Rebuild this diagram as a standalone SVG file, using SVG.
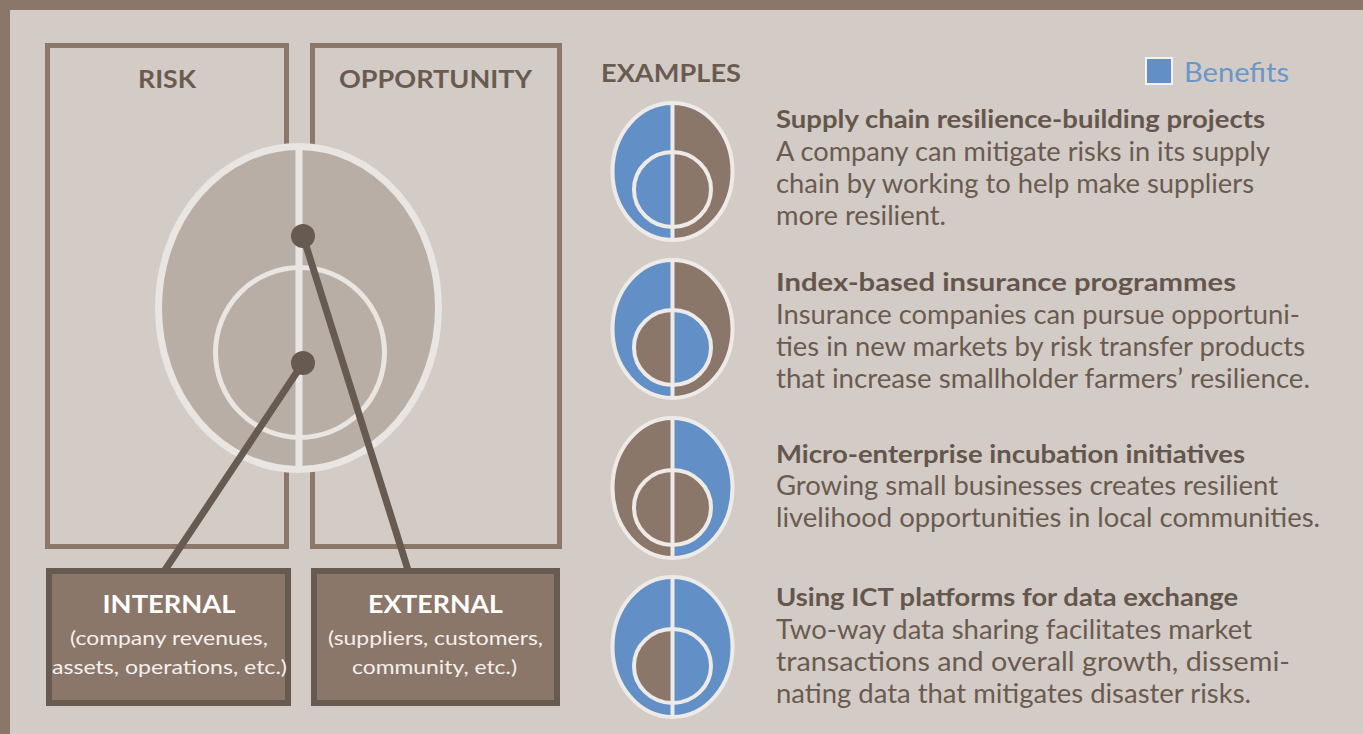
<svg xmlns="http://www.w3.org/2000/svg" width="1363" height="734" viewBox="0 0 1363 734">
  <defs>
    <style>
      .frame { fill: #8b7769; }
      .panel { fill: #d3cbc6; }
      .col { fill: none; stroke: #8b786b; stroke-width: 5; }
      .hdr { font-family: Lato, "Open Sans", sans-serif; font-weight: bold; font-size: 25px; fill: #6a5b51; }
      .bigOval { fill: #b8aea6; stroke: #e9e5e2; stroke-width: 7; }
      .bigInner { fill: none; stroke: #e9e5e2; stroke-width: 5; }
      .divider { stroke: #e9e5e2; stroke-width: 7; }
      .link { stroke: #675a50; stroke-width: 7; stroke-linecap: round; }
      .dot { fill: #675a50; }
      .box { fill: #8b7769; stroke: #675a50; stroke-width: 6; }
      .boxTitle { font-family: Lato, "Open Sans", sans-serif; font-weight: bold; font-size: 25px; fill: #ffffff; text-anchor: middle; }
      .boxText { font-family: Lato, "Open Sans", sans-serif; font-size: 20px; fill: #f4f0ed; text-anchor: middle; }
      .blue { fill: #6290c6; }
      .brown { fill: #8b7769; }
      .iconRing { fill: none; stroke: #eeeae7; stroke-width: 4; }
      .iconLine { stroke: #eeeae7; stroke-width: 4; }
      .exTitle { font-family: Lato, "Open Sans", sans-serif; font-weight: bold; font-size: 24px; fill: #64564c; }
      .exText { font-family: Lato, "Open Sans", sans-serif; font-size: 26px; fill: #6a5b51; }
      .legend { font-family: Lato, "Open Sans", sans-serif; font-size: 26px; fill: #6a96c9; }
    </style>
  </defs>

  <!-- frame -->
  <rect class="frame" x="0" y="0" width="1363" height="734"/>
  <rect class="panel" x="10" y="10" width="1353" height="724"/>

  <!-- risk / opportunity columns -->
  <g id="risk-column">
    <rect class="col" x="47.5" y="45.5" width="239" height="501"/>
    <text class="hdr" x="167" y="88" text-anchor="middle" textLength="58" lengthAdjust="spacingAndGlyphs">RISK</text>
  </g>
  <g id="opportunity-column">
    <rect class="col" x="312.5" y="45.5" width="247" height="501"/>
    <text class="hdr" x="435.5" y="88" text-anchor="middle" textLength="193" lengthAdjust="spacingAndGlyphs">OPPORTUNITY</text>
  </g>

  <!-- central oval -->
  <g id="exposure-oval">
    <ellipse class="bigOval" cx="298.5" cy="308" rx="140" ry="161.5"/>
    <ellipse class="bigInner" cx="300" cy="352.5" rx="84.5" ry="85"/>
    <line class="divider" x1="299" y1="148" x2="299" y2="469"/>
  </g>

  <!-- connectors -->
  <g id="connectors">
    <line class="link" x1="303" y1="236" x2="408" y2="570"/>
    <line class="link" x1="303" y1="363" x2="165" y2="570"/>
    <circle class="dot" cx="303" cy="236" r="12"/>
    <circle class="dot" cx="303" cy="363" r="12"/>
  </g>

  <!-- category boxes -->
  <g id="internal">
    <rect class="box" x="49" y="571" width="239" height="132"/>
    <text class="boxTitle" x="169" y="613" textLength="133" lengthAdjust="spacingAndGlyphs">INTERNAL</text>
    <text class="boxText" x="169" y="645" textLength="198" lengthAdjust="spacingAndGlyphs">(company revenues,</text>
    <text class="boxText" x="169.5" y="674" textLength="235" lengthAdjust="spacingAndGlyphs">assets, operations, etc.)</text>
  </g>
  <g id="external">
    <rect class="box" x="314" y="571" width="243" height="132"/>
    <text class="boxTitle" x="435.5" y="613" textLength="135" lengthAdjust="spacingAndGlyphs">EXTERNAL</text>
    <text class="boxText" x="435.5" y="645" textLength="215" lengthAdjust="spacingAndGlyphs">(suppliers, customers,</text>
    <text class="boxText" x="434.5" y="674" textLength="165" lengthAdjust="spacingAndGlyphs">community, etc.)</text>
  </g>

  <!-- examples heading and legend -->
  <g id="examples-heading">
    <text class="hdr" x="601" y="82" textLength="140" lengthAdjust="spacingAndGlyphs">EXAMPLES</text>
  </g>
  <g id="legend">
    <rect x="1146" y="58" width="26" height="26" fill="#6290c6" stroke="#f4f2f0" stroke-width="2"/>
    <text class="legend" x="1184" y="82" textLength="105" lengthAdjust="spacingAndGlyphs">Benefits</text>
  </g>

  <!-- example 1: supply chain -->
  <g id="example-supply-chain">
    <path class="blue" d="M672.5 103 A60 68.5 0 0 0 672.5 240 Z"/>
    <path class="brown" d="M672.5 103 A60 68.5 0 0 1 672.5 240 Z"/>
    <ellipse class="iconRing" cx="672.5" cy="171.5" rx="60" ry="68.5"/>
    <ellipse class="iconRing" cx="672.5" cy="189.5" rx="38.5" ry="37.5"/>
    <line class="iconLine" x1="672.5" y1="102" x2="672.5" y2="241"/>
    <text class="exTitle" x="776" y="128" textLength="489" lengthAdjust="spacingAndGlyphs">Supply chain resilience-building projects</text>
    <text class="exText" x="776" y="161" textLength="494" lengthAdjust="spacingAndGlyphs">A company can mitigate risks in its supply</text>
    <text class="exText" x="776" y="193" textLength="478" lengthAdjust="spacingAndGlyphs">chain by working to help make suppliers</text>
    <text class="exText" x="776" y="225" textLength="170" lengthAdjust="spacingAndGlyphs">more resilient.</text>
  </g>

  <!-- example 2: index-based insurance -->
  <g id="example-insurance">
    <path class="blue" d="M672.5 260 A60 69 0 0 0 672.5 398 Z"/>
    <path class="brown" d="M672.5 260 A60 69 0 0 1 672.5 398 Z"/>
    <path class="brown" d="M672.5 310 A38.5 37.5 0 0 0 672.5 385 Z"/>
    <path class="blue" d="M672.5 310 A38.5 37.5 0 0 1 672.5 385 Z"/>
    <ellipse class="iconRing" cx="672.5" cy="329" rx="60" ry="69"/>
    <ellipse class="iconRing" cx="672.5" cy="347.5" rx="38.5" ry="37.5"/>
    <line class="iconLine" x1="672.5" y1="259" x2="672.5" y2="399"/>
    <text class="exTitle" x="776" y="291" textLength="460" lengthAdjust="spacingAndGlyphs">Index-based insurance programmes</text>
    <text class="exText" x="776" y="324" textLength="524" lengthAdjust="spacingAndGlyphs">Insurance companies can pursue opportuni-</text>
    <text class="exText" x="776" y="356" textLength="529" lengthAdjust="spacingAndGlyphs">ties in new markets by risk transfer products</text>
    <text class="exText" x="776" y="388" textLength="534" lengthAdjust="spacingAndGlyphs">that increase smallholder farmers’ resilience.</text>
  </g>

  <!-- example 3: micro-enterprise -->
  <g id="example-micro-enterprise">
    <path class="brown" d="M672.5 418 A60 70 0 0 0 672.5 558 Z"/>
    <path class="blue" d="M672.5 418 A60 70 0 0 1 672.5 558 Z"/>
    <ellipse class="brown" cx="672.5" cy="507.5" rx="38.5" ry="37.5"/>
    <ellipse class="iconRing" cx="672.5" cy="488" rx="60" ry="70"/>
    <ellipse class="iconRing" cx="672.5" cy="507.5" rx="38.5" ry="37.5"/>
    <line class="iconLine" x1="672.5" y1="417" x2="672.5" y2="559"/>
    <text class="exTitle" x="776" y="463" textLength="469" lengthAdjust="spacingAndGlyphs">Micro-enterprise incubation initiatives</text>
    <text class="exText" x="776" y="495" textLength="502" lengthAdjust="spacingAndGlyphs">Growing small businesses creates resilient</text>
    <text class="exText" x="776" y="527" textLength="544" lengthAdjust="spacingAndGlyphs">livelihood opportunities in local communities.</text>
  </g>

  <!-- example 4: ICT platforms -->
  <g id="example-ict">
    <ellipse class="blue" cx="672.5" cy="647" rx="60" ry="70"/>
    <path class="brown" d="M672.5 629 A38.5 37 0 0 0 672.5 703 Z"/>
    <ellipse class="iconRing" cx="672.5" cy="647" rx="60" ry="70"/>
    <ellipse class="iconRing" cx="672.5" cy="666" rx="38.5" ry="37"/>
    <line class="iconLine" x1="672.5" y1="576" x2="672.5" y2="718"/>
    <text class="exTitle" x="776" y="606" textLength="462" lengthAdjust="spacingAndGlyphs">Using ICT platforms for data exchange</text>
    <text class="exText" x="776" y="639" textLength="476" lengthAdjust="spacingAndGlyphs">Two-way data sharing facilitates market</text>
    <text class="exText" x="776" y="671" textLength="514" lengthAdjust="spacingAndGlyphs">transactions and overall growth, dissemi-</text>
    <text class="exText" x="776" y="703" textLength="475" lengthAdjust="spacingAndGlyphs">nating data that mitigates disaster risks.</text>
  </g>
</svg>
